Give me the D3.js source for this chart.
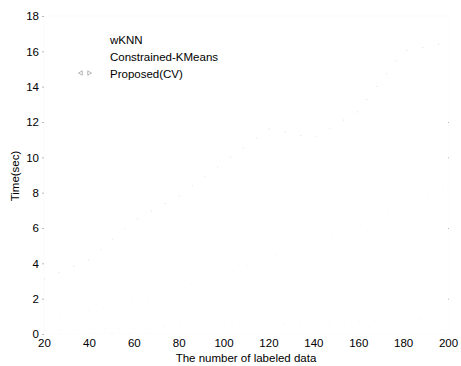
<!DOCTYPE html>
<html>
<head>
  <style>
    body { margin: 0; background: #fff; }
    svg text { font-family: "Liberation Sans", Arial, sans-serif; fill: #000; }
  </style>
</head>
<body>
  <div id="chart"></div>
  <script src="https://d3js.org/d3.v7.min.js"></script>
  <script>
    // Values read off a heavily faded scan, so they are estimates
    const labeled = [20, 40, 60, 80, 100, 120, 140, 160, 180, 200];
    const wknn = [3.1, 4.2, 6.4, 7.8, 9.7, 11.6, 11.1, 12.6, 16.0, 16.5];
    const ckmeans = [0.9, 1.3, 1.9, 2.6, 3.4, 4.3, 5.2, 6.1, 7.3, 8.4];
    const proposed = [0.2, 0.3, 0.3, 0.4, 0.5, 0.5, 0.6, 0.7, 0.8, 0.9];
    const seriesNames = ["wKNN", "Constrained-KMeans", "Proposed(CV)"];
    const xTicks = [20, 40, 60, 80, 100, 120, 140, 160, 180, 200];
    const yTicks = [0, 2, 4, 6, 8, 10, 12, 14, 16, 18];

    const W = 461, H = 366;
    const mLeft = 44, mRight = 448, mTop = 16, mBottom = 334;
    const fs = 11.5;

    const svg = d3.select("#chart")
      .append("svg")
      .attr("width", W)
      .attr("height", H);

    const x = d3.scaleLinear().domain([20, 200]).range([mLeft, mRight]);
    const y = d3.scaleLinear().domain([0, 18]).range([mBottom, mTop]);

    // faded frame
    svg.append("rect")
      .attr("x", mLeft).attr("y", mTop)
      .attr("width", mRight - mLeft).attr("height", mBottom - mTop)
      .attr("fill", "none").attr("stroke", "#f8f8f8").attr("stroke-width", 0.5);

    const yAxis = svg.append("g")
      .attr("transform", `translate(${mLeft},0)`)
      .call(d3.axisLeft(y).tickValues(yTicks).tickSize(2).tickPadding(3));
    yAxis.select(".domain").remove();
    yAxis.selectAll("line").attr("stroke", "#bbb");
    yAxis.selectAll("text").attr("font-size", fs).style("font-family", "Liberation Sans, Arial, sans-serif");

    const rTicks = svg.append("g")
      .attr("transform", `translate(${mRight},0)`)
      .call(d3.axisRight(y).tickValues([2, 6, 10, 12]).tickSize(1).tickFormat(""));
    rTicks.select(".domain").remove();
    rTicks.selectAll("line").attr("stroke", "#bbb");

    const xAxis = svg.append("g")
      .attr("transform", `translate(0,${mBottom})`)
      .call(d3.axisBottom(x).tickValues(xTicks).tickSize(0).tickPadding(5));
    xAxis.select(".domain").remove();
    xAxis.selectAll("text").attr("font-size", fs).style("font-family", "Liberation Sans, Arial, sans-serif");

    svg.append("text")
      .attr("x", 246).attr("y", 362)
      .attr("text-anchor", "middle").attr("font-size", fs)
      .text("The number of labeled data");

    svg.append("text")
      .attr("transform", "translate(19,176) rotate(-90)")
      .attr("text-anchor", "middle").attr("font-size", fs)
      .text("Time(sec)");

    const line = d3.line().x((d, i) => x(labeled[i])).y(d => y(d));
    const series = [wknn, ckmeans, proposed];
    const strokes = ["#dddddd", "#f5f5f5", "#f5f5f5"];
    const dashes = ["1,15", "1,14", "1,14"];

    series.forEach((s, k) => {
      svg.append("path")
        .datum(s)
        .attr("d", line)
        .attr("fill", "none")
        .attr("stroke", strokes[k])
        .attr("stroke-width", 1)
        .attr("stroke-dasharray", dashes[k]);
    });

    // legend
    const legend = svg.append("g");
    seriesNames.forEach((name, i) => {
      legend.append("text")
        .attr("x", 110).attr("y", 44 + i * 17)
        .attr("font-size", fs)
        .text(name);
    });
    legend.append("path")
      .attr("d", d3.symbol(d3.symbolTriangle, 8)())
      .attr("transform", "translate(81,73) rotate(-90)")
      .attr("fill", "none").attr("stroke", "#888").attr("stroke-width", 0.6);
    legend.append("path")
      .attr("d", d3.symbol(d3.symbolTriangle, 8)())
      .attr("transform", "translate(89,73) rotate(90)")
      .attr("fill", "none").attr("stroke", "#888").attr("stroke-width", 0.6);
  </script>
</body>
</html>
